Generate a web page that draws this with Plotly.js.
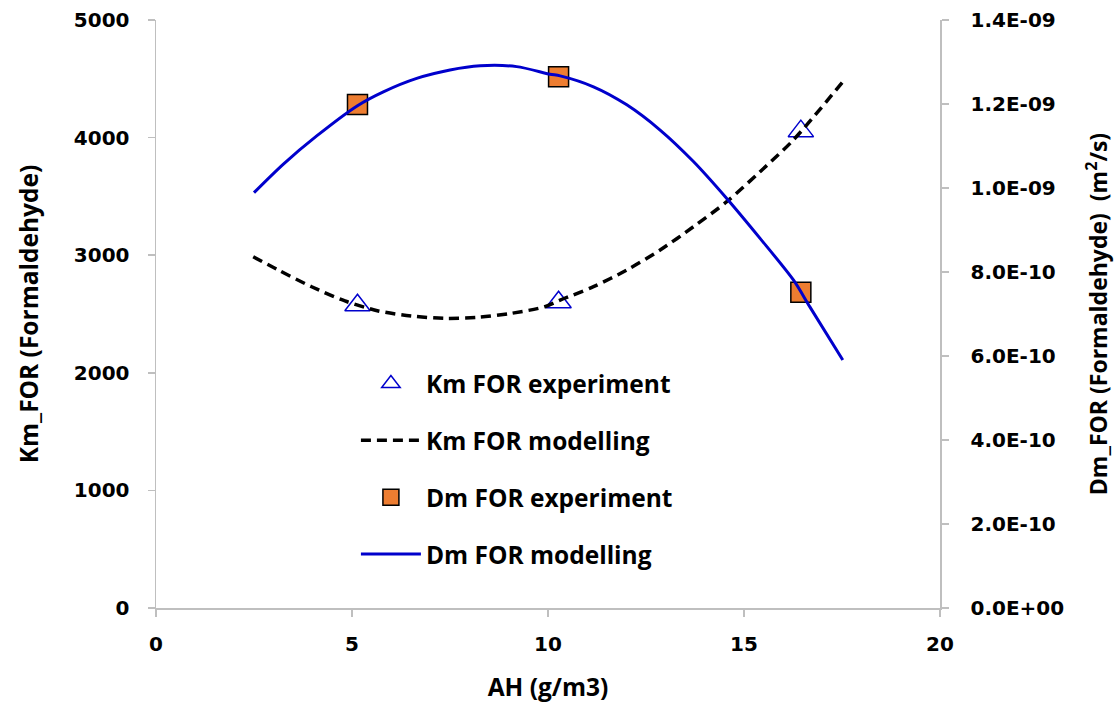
<!DOCTYPE html>
<html>
<head>
<meta charset="utf-8">
<script src="https://cdn.plot.ly/plotly-3.0.1.min.js"></script>
<style>html,body{margin:0;padding:0;background:#fff;}#chart{width:1119px;height:706px;}</style>
</head>
<body>
<div id="chart"></div>
<script>
// Experimental points
const expAH = [5.14, 10.27, 16.45];
const kmExp = [2575, 2600, 4055];
const dmExp = [1.199e-9, 1.265e-9, 0.752e-9];

// Km modelling curve
const kmModAH = [2.48, 3.12, 3.97, 4.82, 5.67, 6.52, 7.37, 8.22, 9.07, 9.92, 10.31, 11.16, 12.01, 12.86, 13.71, 14.56, 15.41, 16.26, 17.52];
const kmMod = [2987, 2874, 2732, 2611, 2526, 2483, 2463, 2472, 2506, 2562, 2618, 2732, 2874, 3044, 3242, 3455, 3710, 3980, 4475];

// Dm modelling curve
const dmModAH = [2.5, 3.25, 4.10, 5.14, 5.8, 6.65, 7.5, 8.27, 9.2, 10.05, 10.31, 11.16, 12.01, 12.86, 13.71, 14.56, 15.41, 16.26, 16.68, 17.52];
const dmMod = [0.989e-9, 1.057e-9, 1.124e-9, 1.196e-9, 1.229e-9, 1.261e-9, 1.281e-9, 1.291e-9, 1.289e-9, 1.271e-9, 1.267e-9, 1.241e-9, 1.198e-9, 1.138e-9, 1.063e-9, 0.975e-9, 0.880e-9, 0.781e-9, 0.717e-9, 0.5905e-9];

// Axis ticks
const xTicks = [0, 5, 10, 15, 20];
const yLeftTicks = [0, 1000, 2000, 3000, 4000, 5000];
const yRightTicks = [0, 2e-10, 4e-10, 6e-10, 8e-10, 1e-9, 1.2e-9, 1.4e-9];
const yRightLabels = ['0.0E+00', '2.0E-10', '4.0E-10', '6.0E-10', '8.0E-10', '1.0E-09', '1.2E-09', '1.4E-09'];

const b = s => '<b>' + s + '</b>';

const traces = [
  {x: expAH, y: kmExp, name: b('Km FOR experiment'), type: 'scatter', mode: 'markers',
   marker: {symbol: 'triangle-up-open', size: 22, color: '#0000CC', line: {width: 1.5, color: '#0000CC'}},
   legendgroup: 'a', yaxis: 'y'},
  {x: kmModAH, y: kmMod, name: b('Km FOR modelling'), type: 'scatter', mode: 'lines',
   line: {color: '#000000', width: 3.5, dash: '10px,6px', shape: 'spline', smoothing: 0.8},
   legendgroup: 'b', yaxis: 'y'},
  {x: expAH, y: dmExp, name: b('Dm FOR experiment'), type: 'scatter', mode: 'markers',
   marker: {symbol: 'square', size: 20, color: '#ED7D31', line: {width: 1.5, color: '#000000'}},
   legendgroup: 'c', yaxis: 'y2'},
  {x: dmModAH, y: dmMod, name: b('Dm FOR modelling'), type: 'scatter', mode: 'lines',
   line: {color: '#0000CC', width: 3, shape: 'spline', smoothing: 0.8},
   legendgroup: 'd', yaxis: 'y2'}
];

const tickFont = {family: 'DejaVu Sans', size: 20, color: '#000000'};
const titleFont = {family: 'Open Sans', size: 24.5, color: '#000000'};

const axisCommon = {
  showgrid: false, zeroline: false, showline: true, linecolor: '#BFBFBF', linewidth: 1.5,
  ticks: 'outside', ticklen: 7, tickcolor: '#BFBFBF', tickwidth: 1.5, tickfont: tickFont
};

const layout = {
  width: 1119, height: 706,
  margin: {l: 156, r: 179, t: 20, b: 98},
  paper_bgcolor: '#ffffff', plot_bgcolor: '#ffffff',
  showlegend: true,
  legend: {
    x: 0.255, y: 0.42, xanchor: 'left', yanchor: 'top',
    font: {family: 'Open Sans', size: 24.5, color: '#000000'},
    bgcolor: 'rgba(0,0,0,0)', borderwidth: 0,
    traceorder: 'grouped', tracegroupgap: 22, itemwidth: 60
  },
  xaxis: Object.assign({}, axisCommon, {
    range: [0, 20], tickvals: xTicks, ticktext: xTicks.map(v => b(String(v))),
    ticklabelstandoff: 10,
    title: {text: b('AH (g/m3)'), font: titleFont, standoff: 24}
  }),
  yaxis: Object.assign({}, axisCommon, {
    range: [0, 5000], tickvals: yLeftTicks, ticktext: yLeftTicks.map(v => b(String(v))),
    ticklabelstandoff: 14,
    title: {text: b('Km_FOR (Formaldehyde)'), font: titleFont, standoff: 28}
  }),
  yaxis2: Object.assign({}, axisCommon, {
    range: [0, 1.4e-9], overlaying: 'y', side: 'right',
    tickvals: yRightTicks, ticktext: yRightLabels.map(b),
    ticklabelstandoff: 18,
    title: {text: b('Dm_FOR (Formaldehyde)  (m<sup>2</sup>/s)'), font: {family: 'Open Sans', size: 23, color: '#000000'}, standoff: 27}
  })
};

Plotly.newPlot('chart', traces, layout, {displayModeBar: false, staticPlot: true});
</script>
</body>
</html>
